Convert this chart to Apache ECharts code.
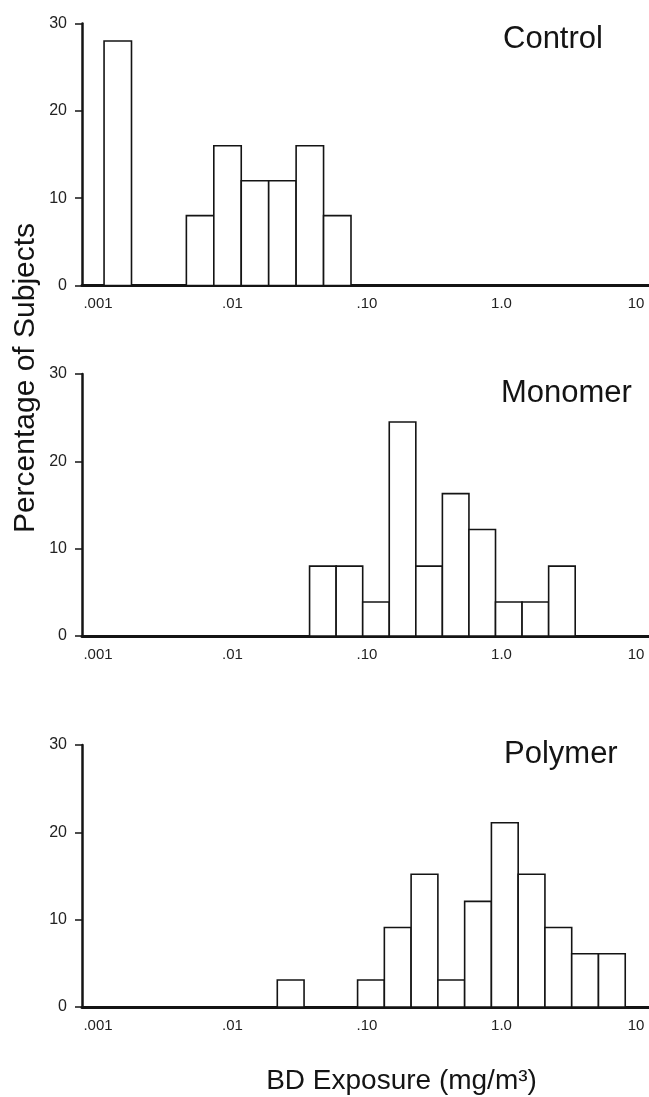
<!DOCTYPE html>
<html>
<head>
<meta charset="utf-8">
<script src="https://cdn.jsdelivr.net/npm/echarts@6/dist/echarts.min.js"></script>
<style>
html,body{margin:0;padding:0;background:#fff;}
#chart{width:649px;height:1097px;}
</style>
</head>
<body>
<div id="chart"></div>
<script>
// ---- data (x in log10 of BD exposure, mg/m3; y in percent of subjects) ----
const xTickValues = [-3, -2, -1, 0, 1];
const xTickLabels = ['.001', '.01', '.10', '1.0', '10'];
const yTickValues = [0, 10, 20, 30];

const panelTitles = ['Control', 'Monomer', 'Polymer'];

const controlFirstBin = -2.955;   // log10 lower edge of first bin
const controlBinWidth = 0.204;
const controlPct = [28, 0, 0, 8, 16, 12, 12, 16, 8];

const monomerFirstBin = -1.427;
const monomerBinWidth = 0.1975;
const monomerPct = [8, 8, 3.9, 24.5, 8, 16.3, 12.2, 3.9, 3.9, 8];

const polymerFirstBin = -1.667;
const polymerBinWidth = 0.199;
const polymerPct = [3.1, 0, 0, 3.1, 9.1, 15.2, 3.1, 12.1, 21.1, 15.2, 9.1, 6.1, 6.1];

const yAxisTitle = 'Percentage of Subjects';
const xAxisTitle = 'BD Exposure (mg/m³)';

// ---- build ----
const FONT = '"Liberation Sans", Arial, Helvetica, sans-serif';
const INK = '#141414';

function bins(first, width, pct) {
  const out = [];
  pct.forEach((v, i) => {
    if (v > 0) out.push([first + i * width, first + (i + 1) * width, v]);
  });
  return out;
}

const panels = [
  { data: bins(controlFirstBin, controlBinWidth, controlPct), top: 23.5 },
  { data: bins(monomerFirstBin, monomerBinWidth, monomerPct), top: 374 },
  { data: bins(polymerFirstBin, polymerBinWidth, polymerPct), top: 745 }
];

const X_MIN = -3.119, X_MAX = 1.0967;

const grids = [], xAxes = [], yAxes = [], series = [];
panels.forEach((p, i) => {
  grids.push({ left: 82, right: 0, top: p.top, height: 262, containLabel: false });
  xAxes.push({
    type: 'value', gridIndex: i, min: X_MIN, max: X_MAX,
    axisLine: { show: true, onZero: false, lineStyle: { color: INK, width: 3 } },
    axisTick: { show: false },
    splitLine: { show: false },
    axisLabel: {
      customValues: xTickValues,
      formatter: v => xTickLabels[xTickValues.indexOf(Math.round(v))] || '',
      fontSize: 15, color: '#222', fontFamily: FONT, margin: 11
    }
  });
  yAxes.push({
    type: 'value', gridIndex: i, min: 0, max: 30, interval: 10,
    axisLine: { show: true, onZero: false, lineStyle: { color: INK, width: 2.5 } },
    axisTick: { show: true, inside: false, length: 7, lineStyle: { color: INK, width: 1.5 } },
    splitLine: { show: false },
    axisLabel: {
      customValues: yTickValues,
      fontSize: 16, color: '#222', fontFamily: FONT, margin: 15
    }
  });
  series.push({
    type: 'custom', xAxisIndex: i, yAxisIndex: i,
    encode: { x: [0, 1], y: 2 },
    data: p.data,
    renderItem: function (params, api) {
      const lo = api.value(0), hi = api.value(1), v = api.value(2);
      const a = api.coord([lo, v]);
      const b = api.coord([hi, 0]);
      return {
        type: 'rect',
        shape: { x: a[0], y: a[1], width: b[0] - a[0], height: b[1] - a[1] },
        style: { fill: '#ffffff', stroke: INK, lineWidth: 1.6 }
      };
    },
    silent: true
  });
});

const titleMids = [39.5, 393.5, 754.5];
const titleLefts = [503, 501, 504];
const graphics = panelTitles.map((t, i) => ({
  type: 'text', x: titleLefts[i], y: titleMids[i],
  style: { text: t, font: '31px ' + FONT, fill: INK, align: 'left', verticalAlign: 'middle' }
}));
graphics.push({
  type: 'text', x: 26, y: 378, rotation: Math.PI / 2,
  style: { text: yAxisTitle, font: '30px ' + FONT, fill: INK, align: 'center', verticalAlign: 'middle' }
});
graphics.push({
  type: 'text', x: 401.5, y: 1081,
  style: { text: xAxisTitle, font: '28px ' + FONT, fill: INK, align: 'center', verticalAlign: 'middle' }
});

const chart = echarts.init(document.getElementById('chart'), null, { renderer: 'canvas' });
chart.setOption({
  animation: false,
  backgroundColor: '#ffffff',
  grid: grids,
  xAxis: xAxes,
  yAxis: yAxes,
  series: series,
  graphic: graphics
});
</script>
</body>
</html>
